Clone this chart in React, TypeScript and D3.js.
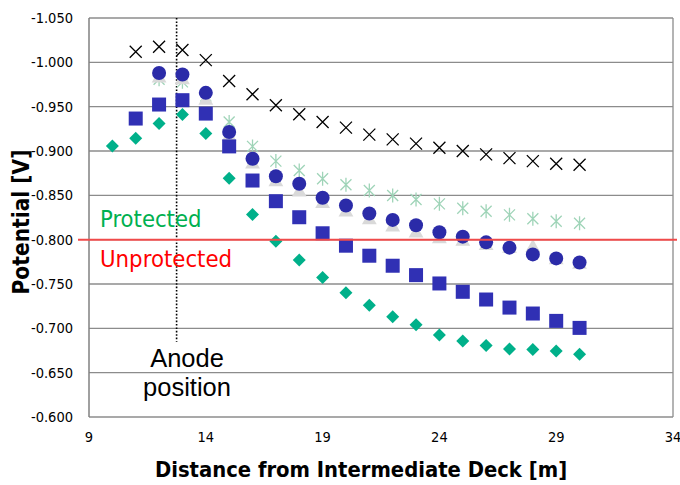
import React from "react";
import * as d3 from "d3";

const xTicks = [9, 14, 19, 24, 29, 34];
const yTicks = [-1.05, -1.0, -0.95, -0.9, -0.85, -0.8, -0.75, -0.7, -0.65, -0.6];

const crossX = d3.range(11, 31);
const crossV = [-1.012, -1.0175, -1.014, -1.0025, -0.979, -0.964, -0.9516, -0.9414, -0.9327, -0.9264, -0.9185, -0.9131, -0.9083, -0.9037, -0.9, -0.8962, -0.892, -0.8886, -0.8856, -0.8845];

const starX = d3.range(12, 31);
const starV = [-0.981, -0.978, -0.962, -0.9327, -0.9052, -0.8886, -0.878, -0.8687, -0.862, -0.8555, -0.8498, -0.8453, -0.8404, -0.8355, -0.832, -0.828, -0.8235, -0.8207, -0.8185];

const triX = d3.range(12, 31);
const triV = [-0.982, -0.98, -0.957, -0.916, -0.885, -0.865, -0.8535, -0.8404, -0.8309, -0.8222, -0.814, -0.8072, -0.8008, -0.798, -0.7932, -0.79, -0.791, -0.777, -0.772];

const circX = d3.range(12, 31);
const circV = [-0.988, -0.9863, -0.9656, -0.9214, -0.8913, -0.8716, -0.863, -0.8472, -0.8385, -0.8295, -0.8223, -0.8162, -0.8083, -0.8034, -0.797, -0.791, -0.7834, -0.7789, -0.7743];

const sqX = d3.range(11, 31);
const sqV = [-0.9366, -0.9524, -0.9573, -0.9422, -0.9052, -0.8667, -0.8434, -0.8253, -0.8072, -0.7932, -0.7819, -0.7706, -0.76, -0.7506, -0.7412, -0.7325, -0.7234, -0.7167, -0.7084, -0.7005];

const diaX = d3.range(10, 31);
const diaV = [-0.9056, -0.9143, -0.9309, -0.9411, -0.9196, -0.8693, -0.8283, -0.7982, -0.777, -0.7573, -0.74, -0.726, -0.713, -0.704, -0.6926, -0.6858, -0.6805, -0.6767, -0.676, -0.6744, -0.6707];

const threshold = -0.8;
const anodeX = 12.75;
const anodeEnd = -0.685;

const left = 89, right = 673, top = 18, bottom = 417;
const font = "'DejaVu Sans Condensed', 'DejaVu Sans', sans-serif";
const arial = "'Liberation Sans', Arial, sans-serif";

const App: React.FC = () => {
  const x = d3.scaleLinear().domain([9, 34]).range([left, right]);
  const y = d3.scaleLinear().domain([-1.05, -0.6]).range([top, bottom]);
  const tri = d3.symbol(d3.symbolTriangle, 95)();

  return (
    <div style={{ position: "absolute", left: 0, top: 0 }}>
      <svg width={680} height={485} style={{ display: "block", background: "#fff" }}>
        {/* grid */}
        {yTicks.map(t => (
          <line key={t} x1={left} x2={right} y1={y(t)} y2={y(t)} stroke="#8c8c8c" strokeWidth={1.3} />
        ))}
        <line x1={left} x2={left} y1={top} y2={bottom} stroke="#808080" strokeWidth={1.5} />
        <line x1={right} x2={right} y1={top} y2={bottom} stroke="#8c8c8c" strokeWidth={1.3} />

        {yTicks.map(t => (
          <text key={t} x={left - 16} y={y(t) + 5} textAnchor="end" fontSize={14.5} fontFamily={font} fill="#000">
            {d3.format(".3f")(t).replace("−", "-")}
          </text>
        ))}
        {xTicks.map(t => (
          <text key={t} x={x(t)} y={442} textAnchor="middle" fontSize={14.5} fontFamily={font} fill="#000">{t}</text>
        ))}

        <text x={361} y={477} textAnchor="middle" fontSize={21.8} fontWeight="bold" fontFamily={font}>
          Distance from Intermediate Deck [m]
        </text>
        <text transform={`translate(29,222) rotate(-90)`} textAnchor="middle" fontSize={22.5} fontWeight="bold" fontFamily={font}>
          Potential [V]
        </text>

        {/* anode line */}
        <line x1={x(anodeX)} x2={x(anodeX)} y1={y(-1.05)} y2={y(anodeEnd)} stroke="#000" strokeWidth={1.6} strokeDasharray="1.6,1.8" />
        <text x={187} y={367} textAnchor="middle" fontSize={25.5} fontFamily={arial}>Anode</text>
        <text x={187} y={396} textAnchor="middle" fontSize={25.5} fontFamily={arial}>position</text>

        <text x={100} y={227} fontSize={23.6} fontFamily={font} fill="#00b050">Protected</text>
        <text x={100} y={267} fontSize={23.7} fontFamily={font} fill="#ff0000">Unprotected</text>

        {/* series */}
        {crossX.map((d, i) => (
          <path key={"c" + d} transform={`translate(${x(d)},${y(crossV[i])})`} d="M-6,-6L6,6M-6,6L6,-6" stroke="#000" strokeWidth={1.3} fill="none" />
        ))}
        {starX.map((d, i) => (
          <path key={"s" + d} transform={`translate(${x(d)},${y(starV[i])})`} d="M-5.5,-5.5L5.5,5.5M-5.5,5.5L5.5,-5.5M0,-7L0,7" stroke="#9fd4b8" strokeWidth={1.3} fill="none" />
        ))}
        {triX.map((d, i) => (
          <path key={"t" + d} transform={`translate(${x(d)},${y(triV[i])})`} d={tri} fill="#d9d9d9" />
        ))}
        {circX.map((d, i) => (
          <circle key={"o" + d} cx={x(d)} cy={y(circV[i])} r={7} fill="#2b2ba8" />
        ))}
        {sqX.map((d, i) => (
          <rect key={"q" + d} x={x(d) - 7} y={y(sqV[i]) - 7} width={14} height={14} fill="#3030b4" />
        ))}
        {diaX.map((d, i) => (
          <path key={"d" + d} transform={`translate(${x(d)},${y(diaV[i])})`} d="M0,-6.5L6.5,0L0,6.5L-6.5,0Z" fill="#00b08a" />
        ))}

        {/* threshold */}
        <line x1={78} x2={677} y1={y(threshold)} y2={y(threshold)} stroke="#f04a4a" strokeWidth={2} />
      </svg>
    </div>
  );
};

export default App;
